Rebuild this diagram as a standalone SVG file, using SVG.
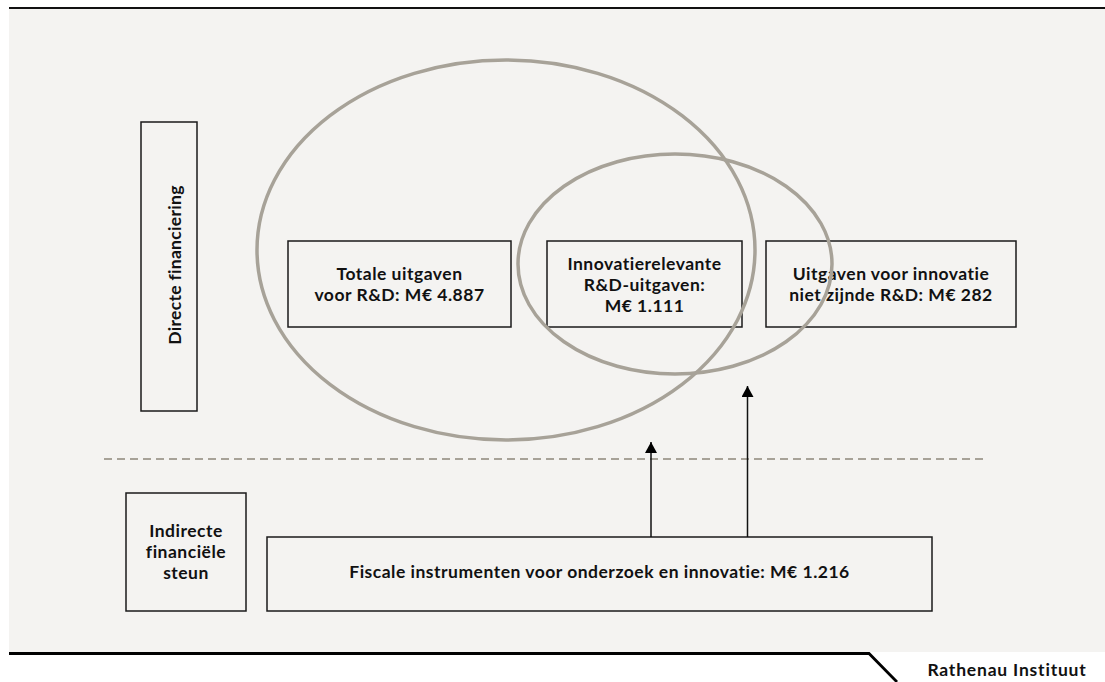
<svg xmlns="http://www.w3.org/2000/svg" width="1105" height="682" viewBox="0 0 1105 682">
<style>
.box{fill:none;stroke:#1a1a1a;stroke-width:1.5}
.ell{fill:none;stroke:#a7a298;stroke-width:3.5}
.t{font-family:Lato,"Liberation Sans",sans-serif;font-weight:700;font-size:17.5px;letter-spacing:0.5px;fill:#111;text-anchor:middle}
.conn{stroke:#111;stroke-width:1.5;fill:none}
</style>
<defs>
<marker id="ah" markerWidth="11" markerHeight="12" refX="11" refY="6" orient="auto" markerUnits="userSpaceOnUse" viewBox="0 0 11 12">
<path d="M0,0 L11,6 L0,12 Z" fill="#000"/>
</marker>
</defs>
<rect x="0" y="0" width="1105" height="682" fill="#ffffff"/>
<rect x="9" y="8" width="1096" height="644" fill="#f4f3f1"/>
<line x1="9" y1="8" x2="1105" y2="8" stroke="#111" stroke-width="2"/>
<polyline points="9,653.5 869,653.5 897,682" fill="none" stroke="#000" stroke-width="2.8"/>
<text x="1007" y="676" class="t" style="letter-spacing:0.8px">Rathenau Instituut</text>

<line x1="104" y1="459" x2="984" y2="459" stroke="#a7a298" stroke-width="2" stroke-dasharray="8,5"/>

<g id="node-directe">
<rect class="box" x="141" y="122" width="56" height="289"/>
<text class="t" transform="translate(181,265) rotate(-90)" style="letter-spacing:0.3px">Directe financiering</text>
</g>
<g id="node-indirecte">
<rect class="box" x="126" y="493" width="120" height="118"/>
<text class="t" x="186" y="537">Indirecte</text>
<text class="t" x="186" y="558">financiële</text>
<text class="t" x="186" y="579">steun</text>
</g>
<g id="node-totale">
<rect class="box" x="288" y="241" width="223" height="86"/>
<text class="t" x="399.5" y="280">Totale uitgaven</text>
<text class="t" x="399.5" y="301">voor R&amp;D: M€ 4.887</text>
</g>
<g id="node-innovatierelevant">
<rect class="box" x="547" y="241" width="195" height="86"/>
<text class="t" x="644.5" y="270">Innovatierelevante</text>
<text class="t" x="644.5" y="291">R&amp;D-uitgaven:</text>
<text class="t" x="644.5" y="312">M€ 1.111</text>
</g>
<g id="node-niet-rd">
<rect class="box" x="766" y="241" width="250" height="86"/>
<text class="t" x="891" y="280">Uitgaven voor innovatie</text>
<text class="t" x="891" y="301">niet zijnde R&amp;D: M€ 282</text>
</g>
<g id="node-fiscale">
<rect class="box" x="267" y="537" width="665" height="74"/>
<text class="t" x="599.5" y="578">Fiscale instrumenten voor onderzoek en innovatie: M€ 1.216</text>
</g>
<g id="ellipses">
<ellipse class="ell" cx="506" cy="250" rx="249" ry="190"/>
<ellipse class="ell" cx="675" cy="264" rx="157" ry="110"/>
</g>
<g id="connectors">
<line class="conn" x1="651" y1="537" x2="651" y2="442" marker-end="url(#ah)"/>
<line class="conn" x1="747.5" y1="537" x2="747.5" y2="386" marker-end="url(#ah)"/>
</g>
</svg>
